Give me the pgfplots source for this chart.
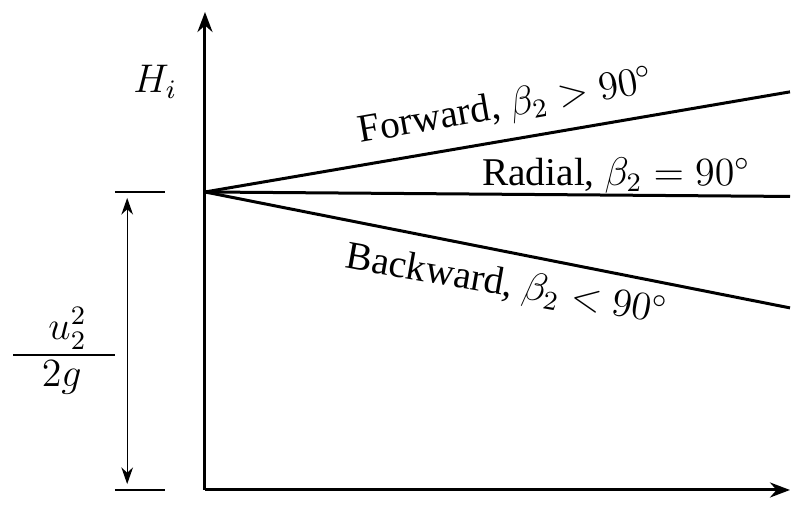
\documentclass[border=0pt]{standalone}
\usepackage{pgfplots}
\pgfplotsset{compat=1.18}
\usepackage{fontspec}
\setmainfont{Liberation Serif}
\usetikzlibrary{arrows.meta}
\begin{document}
\begin{tikzpicture}[font=\fontsize{11.8}{14}\selectfont]
\useasboundingbox (-61.5pt,-4.5pt) rectangle (176.1pt,147pt);
\begin{axis}[
  at={(0,0)}, anchor=south west,
  scale only axis, width=175.5pt, height=143.4pt,
  xmin=0, xmax=1, ymin=0, ymax=1.604,
  axis lines=left,
  axis line style={line width=0.9pt, -{Stealth[length=6pt,width=4.5pt]}},
  xtick=\empty, ytick=\empty,
  clip=false,
]
% head-flow characteristics for the three blade shapes
\addplot[black, line width=0.9pt] coordinates {(0,1) (1,1.336)};
\addplot[black, line width=0.9pt] coordinates {(0,1) (1,0.985)};
\addplot[black, line width=0.9pt] coordinates {(0,1) (1,0.611)};

\node[rotate=10, inner sep=0pt] at (axis cs:0.515,1.285) {Forward, $\beta_2 > 90^\circ$};
\node[inner sep=0pt] at (axis cs:0.703,1.056) {Radial, $\beta_2 = 90^\circ$};
\node[rotate=-10, inner sep=0pt] at (axis cs:0.515,0.685) {Backward, $\beta_2 < 90^\circ$};

\node at (axis cs:-0.085,1.369) {$H_i$};

% shutoff head dimension
\draw[line width=0.4pt] (axis cs:-0.154,1) -- (axis cs:-0.068,1);
\draw[line width=0.4pt] (axis cs:-0.154,0) -- (axis cs:-0.068,0);
\draw[line width=0.4pt, {Stealth[length=5pt,width=3.5pt]}-{Stealth[length=5pt,width=3.5pt]}]
  (axis cs:-0.133,0.98) -- (axis cs:-0.133,0.02);
\draw[line width=0.4pt] (axis cs:-0.328,0.453) -- (axis cs:-0.154,0.453);
\node[anchor=south, inner sep=0pt] at (axis cs:-0.235,0.47) {$u_2^2$};
\node[anchor=north, inner sep=0pt] at (axis cs:-0.245,0.435) {$2g$};
\end{axis}
\end{tikzpicture}
\end{document}
